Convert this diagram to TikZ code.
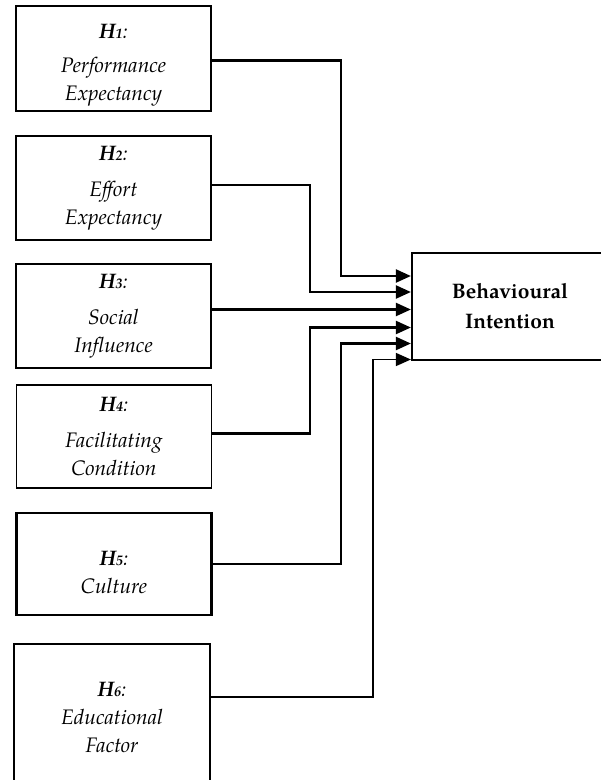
\documentclass[tikz,border=0pt]{standalone}
\usepackage{fontspec}
\setmainfont{TeX Gyre Pagella}
\usetikzlibrary{arrows.meta,positioning,calc}

\newcommand{\hyplabel}[1]{\textbf{\textit{H}}{\fontsize{14}{14}\selectfont\textbf{\textit{#1}}}\textit{:}}

\begin{document}
\begin{tikzpicture}[x=1pt,y=-1pt,>={Triangle[length=15pt,width=13pt]},
  factor/.style={draw,line width=2.2pt,minimum width=195pt,align=center,inner sep=0pt,
    font=\fontsize{21}{28}\selectfont\itshape},
  link/.style={->,line width=2.2pt}]

\useasboundingbox (0,0) rectangle (601,780);
\clip (0,0) rectangle (601,780);

% Dependent variable
\node[draw,line width=2.2pt,minimum width=196pt,minimum height=107pt,align=center,
  font=\fontsize{21}{30}\selectfont\bfseries] (bi) at (510,306.5) {Behavioural\\Intention};

% Hypothesised factors
\node[factor,minimum height=105pt] (pe) at (113.5,58.5) {\rule{0pt}{27pt}\hyplabel{1}\\[6pt]Performance\\Expectancy};
\node[factor,minimum height=104pt] (ee) at (113.5,188) {\hyplabel{2}\\[8pt]Effort\\Expectancy};
\node[factor,minimum height=104pt] (si) at (113.5,316) {\hyplabel{3}\\[8pt]Social\\Influence};
\node[factor,minimum height=103pt,line width=1.7pt] (fc) at (114,436.5) {\hyplabel{4}\\[8pt]Facilitating\\Condition};
\node[factor,minimum height=102pt] (cu) at (114,564) {\rule{0pt}{32pt}\hyplabel{5}\\Culture};
\node[factor,minimum height=146pt,minimum width=196pt,line width=1.7pt] (ef) at (112,717) {\hyplabel{6}\\Educational\\Factor};

% Arrow ends on the left side of the target
\coordinate (t1) at ($(bi.west)+(0,-30.5)$);
\coordinate (t2) at ($(bi.west)+(0,-14.5)$);
\coordinate (t3) at ($(bi.west)+(0,3)$);
\coordinate (t4) at ($(bi.west)+(0,21)$);
\coordinate (t5) at ($(bi.west)+(0,37)$);
\coordinate (t6) at ($(bi.west)+(0,53)$);

% Connectors
\draw[link] ($(pe.east)+(0,2)$) -| ($(t1)+(-70,0)$) -- (t1);
\draw[link] ($(ee.east)+(0,-3)$) -| ($(t2)+(-101,0)$) -- (t2);
\draw[link] (si.east |- t3) -- (t3);
\draw[link] ($(fc.east)+(0,-3)$) -| ($(t4)+(-101,0)$) -- (t4);
\draw[link] (cu.east) -| ($(t5)+(-70,0)$) -- (t5);
\draw[link,line width=1.5pt] ($(ef.north east)+(0,54)$) -| ($(t6)+(-38,0)$) -- (t6);

\end{tikzpicture}
\end{document}
